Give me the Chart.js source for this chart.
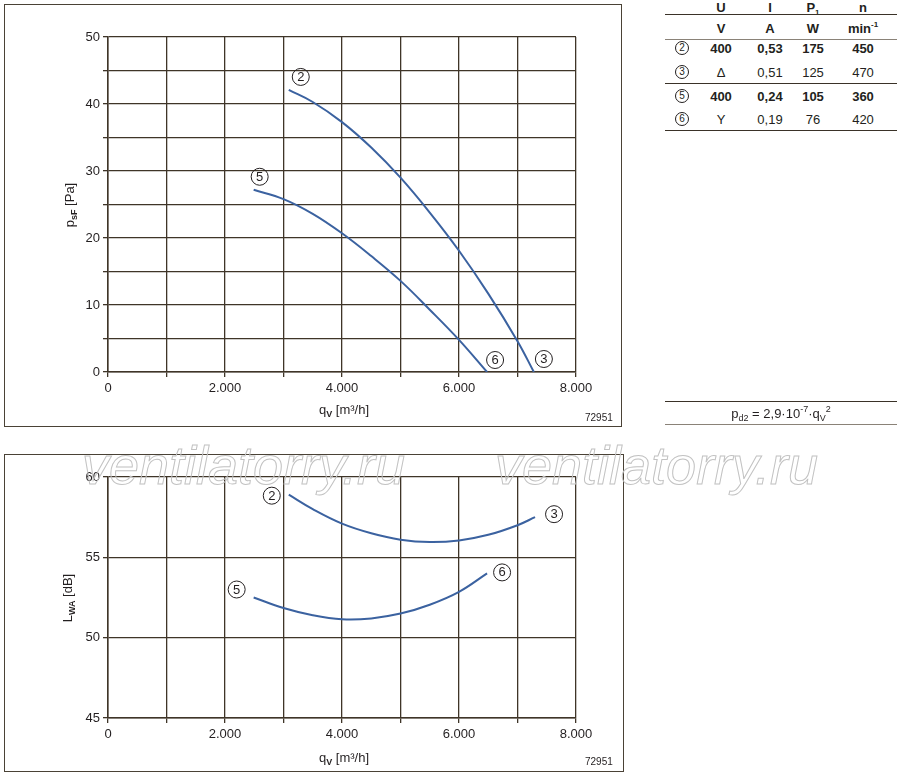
<!DOCTYPE html>
<html><head><meta charset="utf-8">
<script src="https://cdn.jsdelivr.net/npm/chart.js@4/dist/chart.umd.min.js"></script>
<style>
html,body{margin:0;padding:0}
body{width:900px;height:776px;position:relative;background:#fff;font-family:"Liberation Sans",Arial,sans-serif;color:#231f20;overflow:hidden}
.abs{position:absolute;white-space:nowrap}
.frame{position:absolute;border:1.5px solid #4a4236;box-sizing:border-box}
.hl{position:absolute;left:665px;width:232px}
.cell{position:absolute;transform:translate(-50%,-50%);font-size:13px;white-space:nowrap}
.circ{position:absolute;transform:translate(-50%,-50%);width:12px;height:12px;border:1px solid #231f20;border-radius:50%;font-size:10px;line-height:12px;text-align:center}
.wm{position:absolute;font-family:"Liberation Sans",Arial,sans-serif;font-style:italic;font-size:54px;line-height:54px;color:transparent;-webkit-text-stroke:1px #c2c2c2;white-space:nowrap;z-index:5}
.title{position:absolute;font-size:13px;white-space:nowrap;transform:translate(-50%,-50%)}
.title sub{font-size:9px;vertical-align:-3px;font-weight:bold}
sub,sup{line-height:0}
</style></head><body>
<div class="frame" style="left:4px;top:4px;width:618px;height:423px"></div>
<div class="frame" style="left:4px;top:454px;width:620px;height:318px"></div>
<div class="abs" style="left:0;top:0;width:640px;height:430px"><canvas id="c1"></canvas></div>
<div class="abs" style="left:0;top:440px;width:640px;height:336px"><canvas id="c2"></canvas></div>

<div class="title" style="left:69px;top:205px;transform:translate(-50%,-50%) rotate(-90deg)">p<sub>sF</sub> [Pa]</div>
<div class="title" style="left:344px;top:409px">q<sub>V</sub> [m³/h]</div>
<div class="abs" style="left:585px;top:412px;font-size:10px">72951</div>
<div class="title" style="left:67px;top:598px;transform:translate(-50%,-50%) rotate(-90deg)">L<sub>WA</sub> [dB]</div>
<div class="title" style="left:344px;top:757px">q<sub>V</sub> [m³/h]</div>
<div class="abs" style="left:585px;top:756px;font-size:10px">72951</div>

<div class="wm" style="left:82px;top:438px">ventilatorry.ru</div>
<div class="wm" style="left:495px;top:438px">ventilatorry.ru</div>

<div id="table"></div>
<div class="hl" style="top:401px;border-top:1.5px solid #3a3228"></div>
<div class="hl" style="top:424px;border-top:1.5px solid #8a8278"></div>
<div class="title" style="left:781px;top:413px">p<sub style="font-weight:normal;font-size:9px">d2</sub> = 2,9·10<sup style="font-size:9px">-7</sup>·q<sub style="font-weight:normal;font-size:9px">V</sub><sup style="font-size:9px">2</sup></div>

<script>
// ---- data ----
const qTickValues = [0, 2000, 4000, 6000, 8000];
const qTickLabels = ['0', '2.000', '4.000', '6.000', '8.000'];
const pTickValues = [0, 10, 20, 30, 40, 50];
const pTickLabels = ['0', '10', '20', '30', '40', '50'];
const lTickValues = [45, 50, 55, 60];
const lTickLabels = ['45', '50', '55', '60'];

// pressure curve 2-3
const q23p = [3090, 3500, 4000, 4500, 5000, 5500, 6000, 6500, 7000, 7280];
const p23  = [42.1, 40.3, 37.3, 33.5, 29.0, 23.8, 18.1, 11.7, 4.6, 0];
// pressure curve 5-6
const q56p = [2490, 3000, 3500, 4000, 4500, 5000, 5500, 6000, 6480];
const p56  = [27.2, 25.8, 23.6, 20.7, 17.3, 13.6, 9.3, 4.8, 0];
// sound curve 2-3
const q23l = [3090, 3500, 4000, 4500, 5000, 5500, 6000, 6500, 7000, 7300];
const l23  = [58.9, 58.0, 57.1, 56.5, 56.1, 55.95, 56.05, 56.4, 57.0, 57.5];
// sound curve 5-6
const q56l = [2490, 3000, 3500, 4000, 4500, 5000, 5500, 6000, 6480];
const l56  = [52.5, 51.85, 51.4, 51.15, 51.2, 51.5, 52.05, 52.85, 54.0];

// table
const tblIds = ['2', '3', '5', '6'];
const tblU = ['400', 'Δ', '400', 'Y'];
const tblI = ['0,53', '0,51', '0,24', '0,19'];
const tblP = ['175', '125', '105', '76'];
const tblN = ['450', '470', '360', '420'];
const tblBold = [true, false, true, false];

// ---- table build ----
(function(){
  const t = document.getElementById('table');
  const cols = [721, 770, 813, 863];
  const add = (html, x, y, bold) => {
    const d = document.createElement('div');
    d.className = 'cell'; d.style.left = x + 'px'; d.style.top = y + 'px';
    if (bold) d.style.fontWeight = 'bold';
    d.innerHTML = html; t.appendChild(d);
  };
  const hdr1 = ['U', 'I', 'P<sub style="font-size:8px">1</sub>', 'n'];
  const hdr2 = ['V', 'A', 'W', 'min<sup style="font-size:8px">-1</sup>'];
  hdr1.forEach((h, i) => add(h, cols[i], 7, true));
  hdr2.forEach((h, i) => add(h, cols[i], 28, true));
  const rowsY = [48, 72, 96, 119];
  tblIds.forEach((id, r) => {
    const c = document.createElement('div');
    c.className = 'circ'; c.style.left = '682px'; c.style.top = rowsY[r] + 'px';
    c.textContent = id; t.appendChild(c);
    [tblU[r], tblI[r], tblP[r], tblN[r]].forEach((v, i) => add(v, cols[i], rowsY[r], tblBold[r]));
  });
  const lines = [[14, '1px solid #3a3228'], [39, '1px solid #8a8278'], [83, '1.5px solid #3a3228'], [130, '1.5px solid #3a3228']];
  lines.forEach(([y, b]) => {
    const l = document.createElement('div'); l.className = 'hl'; l.style.top = y + 'px'; l.style.borderTop = b; t.appendChild(l);
  });
})();

// ---- charts ----
const gridColor = '#3f3528';
const textColor = '#231f20';
const lineColor = '#3b62a0';
const tickFont = {family: 'Liberation Sans', size: 13};

const markerPlugin = {
  id: 'markers',
  afterDatasetsDraw(chart, args, opts) {
    const ctx = chart.ctx;
    (opts.items || []).forEach(m => {
      const pts = chart.getDatasetMeta(m.ds).data;
      const p = m.at === 'start' ? pts[0] : pts[pts.length - 1];
      const x = p.x + m.dx, y = p.y + m.dy;
      ctx.save();
      ctx.beginPath(); ctx.arc(x, y, 8.5, 0, Math.PI * 2);
      ctx.lineWidth = 1; ctx.strokeStyle = textColor; ctx.stroke();
      ctx.font = '13px "Liberation Sans"'; ctx.textAlign = 'center'; ctx.textBaseline = 'middle';
      ctx.fillStyle = textColor; ctx.fillText(m.t, x, y + 0.5);
      ctx.restore();
    });
  }
};

function mkLabel(values, labels) {
  return v => { const i = values.indexOf(v); return i < 0 ? '' : labels[i]; };
}
function ds(xs, ys) {
  return {data: xs.map((x, i) => ({x, y: ys[i]})), showLine: true, borderColor: lineColor, borderWidth: 2,
    pointRadius: 0, tension: 0.4, fill: false};
}
function scales(yMin, yMax, yVals, yLabels) {
  return {
    x: {type: 'linear', min: 0, max: 8000,
      ticks: {stepSize: 1000, autoSkip: false, maxRotation: 0, padding: 4, color: textColor, font: tickFont, callback: mkLabel(qTickValues, qTickLabels)},
      grid: {color: gridColor, lineWidth: 1.3, tickLength: 5, tickColor: gridColor},
      border: {color: gridColor, width: 1.5},
      afterFit: s => { s.height = 58; }},
    y: {type: 'linear', min: yMin, max: yMax,
      ticks: {stepSize: 5, autoSkip: false, padding: 3, color: textColor, font: tickFont, callback: mkLabel(yVals, yLabels)},
      grid: {color: gridColor, lineWidth: 1.3, tickLength: 5, tickColor: gridColor},
      border: {color: gridColor, width: 1.5},
      afterFit: s => { s.width = 108; }}
  };
}
function makeChart(id, datasets, sc, items) {
  return new Chart(document.getElementById(id), {
    type: 'scatter',
    data: {datasets},
    options: {responsive: true, maintainAspectRatio: false, animation: false,
      layout: {padding: {left: 0, top: 37, right: 64, bottom: 0}},
      plugins: {legend: {display: false}, tooltip: {enabled: false}, markers: {items}},
      scales: sc},
    plugins: [markerPlugin]
  });
}

makeChart('c1', [ds(q23p, p23), ds(q56p, p56)], scales(0, 50, pTickValues, pTickLabels), [
  {ds: 0, at: 'start', t: '2', dx: 12, dy: -13},
  {ds: 0, at: 'end', t: '3', dx: 10, dy: -13},
  {ds: 1, at: 'start', t: '5', dx: 6, dy: -13},
  {ds: 1, at: 'end', t: '6', dx: 8, dy: -12}
]);
makeChart('c2', [ds(q23l, l23), ds(q56l, l56)], scales(45, 60, lTickValues, lTickLabels), [
  {ds: 0, at: 'start', t: '2', dx: -17, dy: 1},
  {ds: 0, at: 'end', t: '3', dx: 19, dy: -3},
  {ds: 1, at: 'start', t: '5', dx: -17, dy: -8},
  {ds: 1, at: 'end', t: '6', dx: 15, dy: -1}
]);
</script>
</body></html>
